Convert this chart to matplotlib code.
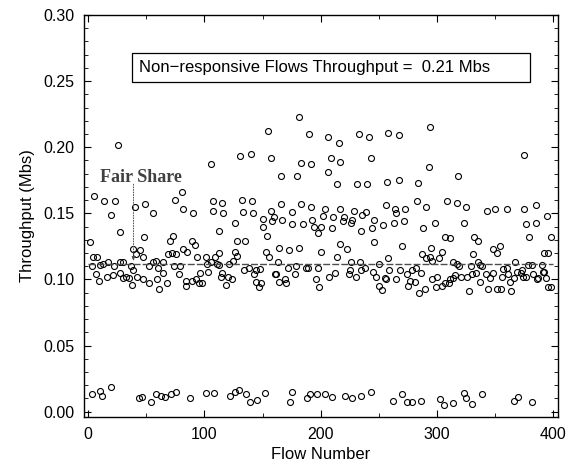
import matplotlib
matplotlib.use("Agg")
import matplotlib.pyplot as plt
from matplotlib.patches import Rectangle
from matplotlib.ticker import MultipleLocator
import numpy as np

# flows well above the band
upper_flow = [2, 5, 14, 20, 23, 26, 27, 40, 49, 48, 56, 70, 73, 75, 81, 82, 89, 90, 92,
              106, 107, 107, 113, 115, 116, 126, 128, 131, 132, 133, 135, 140, 141, 142,
              150, 150, 154, 155, 157, 157, 158, 160, 166, 166, 167, 175, 175, 180, 181,
              183, 183, 185, 190, 192, 192, 193, 194, 198, 200, 202, 204, 206, 206, 209,
              210, 211, 214, 216, 217, 217, 219, 220, 226, 227, 229, 231, 233, 235, 236,
              239, 240, 242, 243, 244, 246, 246,
              254, 256, 257, 258, 263, 264, 265, 267, 267, 270, 272, 273, 283, 284, 288,
              291, 293, 294, 295, 298, 307, 309, 311, 317, 318, 323, 325, 332, 335, 343,
              348, 350, 352, 354, 360, 375, 375, 377, 379, 385, 385, 392, 395, 396, 398]
upper_tput = [0.128, 0.163, 0.159, 0.149, 0.159, 0.202, 0.136, 0.155, 0.157, 0.132, 0.150,
              0.129, 0.133, 0.160, 0.166, 0.153, 0.129, 0.150, 0.126,
              0.187, 0.159, 0.152, 0.137, 0.158, 0.150, 0.143, 0.129, 0.193, 0.160, 0.151,
              0.129, 0.195, 0.159, 0.150, 0.140, 0.146, 0.133, 0.212, 0.192, 0.152, 0.144,
              0.147, 0.178, 0.157, 0.145, 0.151, 0.142, 0.178, 0.223, 0.188, 0.157, 0.142,
              0.210, 0.187, 0.155, 0.145, 0.140, 0.135, 0.140, 0.148, 0.153, 0.181, 0.208,
              0.192, 0.139, 0.147, 0.172, 0.203, 0.189, 0.153, 0.144, 0.147, 0.143, 0.145,
              0.152, 0.172, 0.210, 0.137, 0.149, 0.151, 0.172, 0.208, 0.192, 0.139, 0.145,
              0.128,
              0.141, 0.156, 0.174, 0.211, 0.143, 0.153, 0.150, 0.209, 0.175, 0.125, 0.144,
              0.153, 0.159, 0.173, 0.139, 0.155, 0.185, 0.215, 0.124, 0.143, 0.132, 0.159,
              0.131, 0.158, 0.178, 0.143, 0.155, 0.132, 0.129, 0.152, 0.123, 0.153, 0.120,
              0.125, 0.153, 0.194, 0.153, 0.142, 0.132, 0.156, 0.143, 0.120, 0.148, 0.120,
              0.132]

# main band around the fair share
band_flow = [4, 8, 3, 10, 13, 17, 22, 27, 30, 7, 9, 16, 21, 27, 30, 33, 35, 37, 39, 38,
             39, 41, 45, 42, 47, 52, 47, 52, 56, 58, 60, 64, 59, 61, 64, 68, 69, 72, 74,
             76, 78, 79, 82, 85, 84, 84, 89, 93, 95, 96, 94, 98, 101, 102, 103, 106, 109,
             113, 111, 113, 114, 115, 119, 121, 120, 124, 125,
             126, 128, 138, 134, 144, 148, 143, 144, 147, 149, 153, 156, 163, 161, 162,
             164, 164, 169, 170, 172, 173, 178, 179, 181, 187, 189, 196, 198, 199, 200,
             207, 212, 214, 217, 223, 224, 225, 226, 230, 234, 235, 238, 245, 248, 250,
             253, 255, 250, 258, 259,
             256, 265, 268, 274, 275, 277, 279, 281, 282, 286, 285, 287, 290, 291, 294,
             296, 296, 299, 300, 302, 304, 304, 307, 310, 311, 314, 314, 317, 319, 316,
             321, 326, 328, 329, 331, 330, 334, 335, 337, 339, 337, 342, 344, 346, 348,
             352, 355, 356, 357, 360, 361, 363, 364, 366, 367, 369, 372, 373, 374, 377,
             378, 382, 383, 386, 387, 390, 391, 392, 394, 396, 398]
band_tput = [0.117, 0.117, 0.110, 0.111, 0.112, 0.113, 0.110, 0.113, 0.113, 0.104, 0.099,
             0.102, 0.103, 0.105, 0.101, 0.102, 0.101, 0.110, 0.107, 0.096, 0.123, 0.119,
             0.122, 0.102, 0.100, 0.097, 0.117, 0.110, 0.113, 0.114, 0.109, 0.113, 0.100,
             0.093, 0.105, 0.097, 0.119, 0.120, 0.110, 0.119, 0.104, 0.110, 0.123, 0.121,
             0.099, 0.095, 0.099, 0.100, 0.097, 0.105, 0.117, 0.097, 0.117, 0.112, 0.106,
             0.113, 0.117, 0.120, 0.112, 0.111, 0.102, 0.105, 0.096, 0.112, 0.102, 0.100,
             0.114,
             0.121, 0.118, 0.109, 0.107, 0.107, 0.108, 0.104, 0.098, 0.094, 0.097, 0.121,
             0.117, 0.113, 0.104, 0.104, 0.124, 0.098, 0.100, 0.097, 0.109, 0.122, 0.104,
             0.110, 0.124, 0.109, 0.109, 0.100, 0.109, 0.094, 0.121, 0.102, 0.105, 0.117,
             0.127, 0.123, 0.104, 0.107, 0.113, 0.102, 0.113, 0.107, 0.109, 0.106, 0.102,
             0.095, 0.092, 0.101, 0.112, 0.116, 0.107,
             0.100, 0.100, 0.107, 0.104, 0.095, 0.099, 0.107, 0.098, 0.109, 0.105, 0.090,
             0.119, 0.093, 0.116, 0.117, 0.114, 0.100, 0.094, 0.102, 0.116, 0.121, 0.095,
             0.097, 0.097, 0.100, 0.101, 0.113, 0.112, 0.110, 0.103, 0.102, 0.102, 0.091,
             0.110, 0.119, 0.104, 0.105, 0.113, 0.111, 0.110, 0.098, 0.104, 0.093, 0.101,
             0.105, 0.093, 0.093, 0.102, 0.108, 0.109, 0.104, 0.098, 0.091, 0.101, 0.113,
             0.106, 0.105, 0.107, 0.102, 0.102, 0.111, 0.111, 0.104, 0.100, 0.101, 0.111,
             0.106, 0.106, 0.101, 0.094, 0.094]

# starved flows near zero
low_flow = [3, 10, 12, 20, 44, 46, 54, 58, 63, 66, 71, 76, 88, 101, 108, 122, 126, 130,
            136, 139, 145, 152, 174, 175, 188, 191, 197, 204, 210, 221, 227, 235, 243,
            262, 270, 274, 279, 286, 303, 306, 314, 323, 325, 330, 339, 366, 370, 382]
low_tput = [0.0136, 0.016, 0.012, 0.019, 0.0106, 0.011, 0.0076, 0.0136, 0.012, 0.011,
            0.0136, 0.015, 0.0106, 0.014, 0.014, 0.012, 0.0146, 0.0166, 0.0136, 0.007,
            0.009, 0.014, 0.007, 0.015, 0.0106, 0.0136, 0.0136, 0.0136, 0.0113, 0.012,
            0.0106, 0.012, 0.015, 0.008, 0.0136, 0.007, 0.007, 0.008, 0.0098, 0.0053,
            0.0068, 0.014, 0.0106, 0.006, 0.0136, 0.008, 0.011, 0.007]

fair_share = 0.112
nonresp_tput = 0.21

flows = np.array(upper_flow + band_flow + low_flow)
tput = np.array(upper_tput + band_tput + low_tput)

plt.rcParams['font.family'] = ['Liberation Sans', 'DejaVu Sans']

fig = plt.figure(figsize=(5.68, 4.68), dpi=100)
ax = fig.add_axes([0.148, 0.109, 0.834, 0.859])

ax.plot(flows, tput, 'o', ms=4.3, mfc='none', mec='black', mew=0.8)

# fair share line
ax.plot([0, 400], [fair_share, fair_share], color='0.3', lw=1.0,
        dashes=(5, 1.5))
ax.text(10, 0.174, 'Fair Share', family=['Liberation Serif', 'DejaVu Serif'],
        fontsize=13, color='0.25', fontweight='bold')
ax.annotate('', xy=(39, fair_share + 0.002), xytext=(39, 0.172),
            arrowprops=dict(arrowstyle='-|>', lw=0.7, ls=':', color='0.3',
                            mutation_scale=6, shrinkA=0, shrinkB=0))

# legend-like box
ax.add_patch(Rectangle((38, 0.249), 342, 0.022, fill=False, ec='black', lw=0.9))
ax.text(44, 0.260, 'Non\u2212responsive Flows Throughput =  %.2f Mbs' % nonresp_tput,
        fontsize=12, va='center', ha='left')

ax.set_xlim(-3.5, 404)
ax.set_ylim(-0.004, 0.30)
ax.set_xticks([0, 100, 200, 300, 400])
ax.set_yticks([0.0, 0.05, 0.10, 0.15, 0.20, 0.25, 0.30])
ax.set_yticklabels(['0.00', '0.05', '0.10', '0.15', '0.20', '0.25', '0.30'])
ax.xaxis.set_minor_locator(MultipleLocator(50))
ax.yaxis.set_minor_locator(MultipleLocator(0.01))
ax.tick_params(which='both', direction='in', top=True, right=True, labelsize=11.5)
ax.tick_params(which='major', length=5, width=0.8, pad=7)
ax.tick_params(which='minor', length=3, width=0.6)
for s in ax.spines.values():
    s.set_linewidth(1.0)

ax.set_xlabel('Flow Number', fontsize=12, labelpad=4)
ax.set_ylabel('Throughput (Mbs)', fontsize=12, labelpad=6)

fig.savefig('out.png', dpi=100)
